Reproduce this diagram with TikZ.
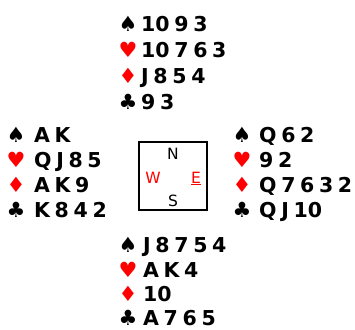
\documentclass[tikz,border=0pt]{standalone}
\usepackage{fontspec}
\setmainfont{DejaVu Sans}
\newfontfamily\cardfamily{DejaVu Sans}[BoldFont={DejaVu Sans Bold}, WordSpace=0.65]
\definecolor{suitred}{RGB}{255,0,0}
\begin{document}
\begin{tikzpicture}[x=1pt,y=-1pt,
  suit/.style={font=\fontsize{21}{21}\selectfont, anchor=base, inner sep=0pt},
  redsuit/.style={suit, text=suitred},
  cards/.style={font=\cardfamily\bfseries\fontsize{20.5}{20.5}\selectfont, anchor=base west, inner sep=0pt},
  dir/.style={font=\fontsize{15.5}{15.5}\selectfont, anchor=base, inner sep=0pt},
  compass/.style={draw=black, line width=2.3pt}]
\useasboundingbox (0,0) rectangle (355,329);
% North
\node[suit]    (nS) at (128,32) {♠};
\node[redsuit] (nH) at (128,57) {♥};
\node[redsuit] (nD) at (128,83) {♦};
\node[suit]    (nC) at (128,109) {♣};
\node[cards] (nSt) at (141,32) {10 9 3};
\node[cards] (nHt) at (141,57) {10 7 6 3};
\node[cards] (nDt) at (141,83) {J 8 5 4};
\node[cards] (nCt) at (141,109) {9 3};
% West
\node[suit]    (wS) at (16,142) {♠};
\node[redsuit] (wH) at (16,167) {♥};
\node[redsuit] (wD) at (16,192) {♦};
\node[suit]    (wC) at (16,217) {♣};
\node[cards] (wSt) at (34,142) {A K};
\node[cards] (wHt) at (34,167) {Q J 8 5};
\node[cards] (wDt) at (34,192) {A K 9};
\node[cards] (wCt) at (34,217) {K 8 4 2};
% East
\node[suit]    (eS) at (242,142) {♠};
\node[redsuit] (eH) at (242,167) {♥};
\node[redsuit] (eD) at (242,192) {♦};
\node[suit]    (eC) at (242,217) {♣};
\node[cards] (eSt) at (259,142) {Q 6 2};
\node[cards] (eHt) at (259,167) {9 2};
\node[cards] (eDt) at (259,192) {Q 7 6 3 2};
\node[cards] (eCt) at (259,217) {Q J 10};
% South
\node[suit]    (sS) at (128,252) {♠};
\node[redsuit] (sH) at (128,277) {♥};
\node[redsuit] (sD) at (128,301) {♦};
\node[suit]    (sC) at (128,325) {♣};
\node[cards] (sSt) at (143,252) {J 8 7 5 4};
\node[cards] (sHt) at (143,277) {A K 4};
\node[cards] (sDt) at (143,301) {10};
\node[cards] (sCt) at (143,325) {A 7 6 5};
% Compass
\node[compass, minimum width=68pt, minimum height=68pt, inner sep=0pt] (box) at (173,176) {};
\node[dir] (dN) at (173,159) {N};
\node[dir, text=suitred] (dW) at (153,183) {W};
\node[dir, text=suitred] (dE) at (196,183) {\underline{E}};
\node[dir] (dS) at (173,206) {S};
\end{tikzpicture}
\end{document}
